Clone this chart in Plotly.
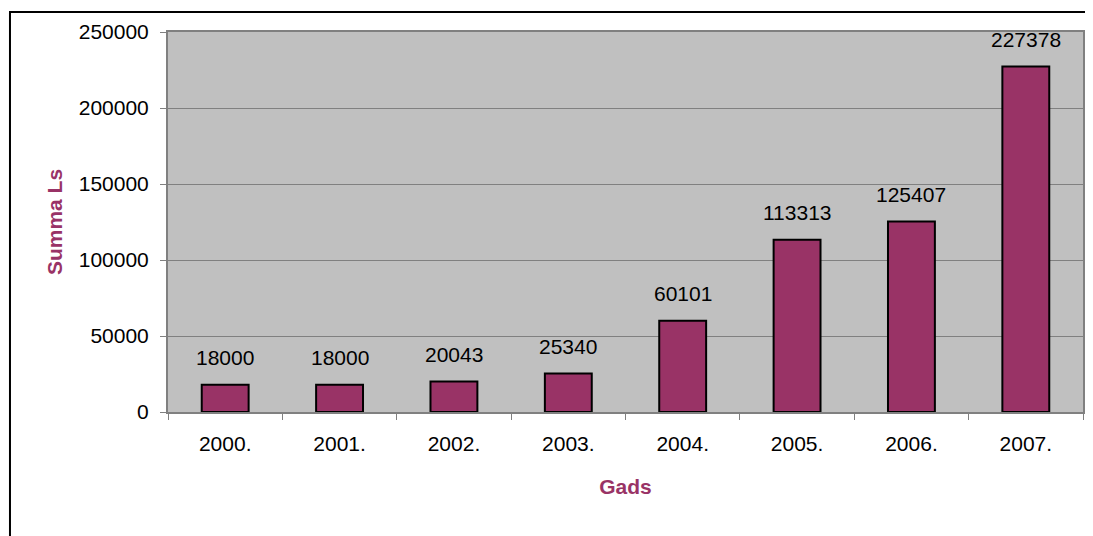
import plotly.graph_objects as go

years = ["2000.", "2001.", "2002.", "2003.", "2004.", "2005.", "2006.", "2007."]
amounts = [18000, 18000, 20043, 25340, 60101, 113313, 125407, 227378]
y_ticks = [0, 50000, 100000, 150000, 200000, 250000]

MAROON = "#993366"
FONT = "Liberation Sans, Arial, sans-serif"
FS = 21

fig = go.Figure(
    go.Bar(
        x=years,
        y=amounts,
        marker=dict(color=MAROON, line=dict(color="black", width=2)),
        hoverinfo="x+y",
    )
)

# value labels; category axis positions are indices (the year strings look numeric)
for i, val in enumerate(amounts):
    fig.add_annotation(
        x=i, y=val, text=str(val), showarrow=False,
        yanchor="middle", yshift=27,
        font=dict(family=FONT, size=FS, color="black"),
    )

# outer frame (partially cropped in the reference)
fig.add_shape(
    type="rect", xref="paper", yref="paper",
    x0=-0.1727, x1=1.05, y0=-0.6, y1=1.0526,
    line=dict(color="black", width=2), fillcolor="rgba(0,0,0,0)", layer="below",
)

fig.update_layout(
    width=1085, height=528,
    margin=dict(l=160, r=10, t=24, b=124, autoexpand=False),
    paper_bgcolor="white",
    plot_bgcolor="#C0C0C0",
    bargap=0.59,
    showlegend=False,
    font=dict(family=FONT, size=FS, color="black"),
    xaxis=dict(
        type="category",
        title=dict(text="<b>Gads</b>", font=dict(family=FONT, size=FS, color=MAROON), standoff=25),
        tickson="boundaries", ticks="outside", ticklen=6, tickcolor="#808080",
        showline=True, linecolor="#808080", linewidth=2, mirror=True,
        showgrid=False, ticklabelstandoff=12, tickangle=0,
        tickfont=dict(family=FONT, size=FS),
    ),
    yaxis=dict(
        title=dict(text="<b>Summa Ls</b>", font=dict(family=FONT, size=FS, color=MAROON), standoff=10),
        range=[0, 250000], tickvals=y_ticks, ticktext=[str(v) for v in y_ticks],
        ticks="outside", ticklen=6, tickcolor="#808080",
        showline=True, linecolor="#808080", linewidth=2, mirror=True,
        showgrid=True, gridcolor="#808080", gridwidth=1,
        zeroline=False, ticklabelstandoff=7,
        tickfont=dict(family=FONT, size=FS),
    ),
)

fig.write_html("out.html")
